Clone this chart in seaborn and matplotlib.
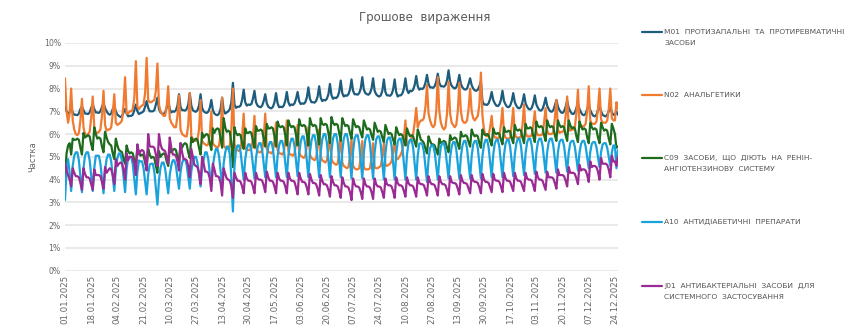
import matplotlib
matplotlib.use("Agg")
import matplotlib.pyplot as plt
import pandas as pd
import seaborn as sns
from matplotlib.lines import Line2D

# ---------------- data (daily shares, %, weeks start on Wednesday 01.01.2025) ----------------
start_date = "2025-01-01"

m01_weeks = [
    [7.20, 7.00, 6.90, 6.95, 7.20, 6.95, 6.85],
    [6.85, 6.83, 6.90, 7.10, 7.20, 7.05, 6.90],
    [6.90, 6.88, 6.95, 7.15, 7.30, 7.10, 6.95],
    [6.95, 6.93, 7.00, 7.20, 7.35, 7.15, 7.00],
    [6.90, 6.85, 6.90, 7.10, 7.25, 7.00, 6.85],
    [6.80, 6.75, 6.78, 6.95, 7.10, 6.90, 6.78],
    [6.80, 6.80, 6.85, 7.05, 7.30, 7.00, 6.88],
    [6.92, 6.95, 7.00, 7.20, 7.45, 7.15, 7.00],
    [7.00, 7.00, 7.05, 7.30, 7.60, 7.10, 6.95],
    [6.90, 6.88, 6.95, 7.15, 7.50, 7.10, 6.95],
    [7.00, 6.98, 7.05, 7.25, 7.75, 7.20, 7.05],
    [7.05, 7.03, 7.10, 7.30, 7.80, 7.25, 7.05],
    [7.00, 6.98, 7.05, 7.25, 7.75, 7.15, 7.00],
    [6.95, 6.93, 6.98, 7.15, 7.50, 7.05, 6.90],
    [6.85, 6.83, 6.90, 7.10, 7.60, 7.05, 6.90],
    [6.95, 7.00, 7.10, 7.40, 8.25, 7.30, 7.15],
    [7.20, 7.20, 7.25, 7.50, 7.95, 7.40, 7.25],
    [7.30, 7.28, 7.32, 7.55, 7.90, 7.40, 7.25],
    [7.20, 7.18, 7.25, 7.45, 7.75, 7.35, 7.20],
    [7.15, 7.13, 7.20, 7.40, 7.80, 7.35, 7.18],
    [7.20, 7.18, 7.25, 7.45, 7.85, 7.40, 7.25],
    [7.30, 7.28, 7.35, 7.55, 7.85, 7.45, 7.32],
    [7.35, 7.33, 7.40, 7.60, 8.05, 7.55, 7.40],
    [7.40, 7.38, 7.45, 7.65, 8.10, 7.60, 7.45],
    [7.50, 7.48, 7.55, 7.75, 8.20, 7.70, 7.55],
    [7.60, 7.58, 7.65, 7.85, 8.35, 7.80, 7.65],
    [7.70, 7.68, 7.75, 7.95, 8.40, 7.90, 7.75],
    [7.75, 7.73, 7.80, 8.00, 8.50, 7.95, 7.80],
    [7.75, 7.73, 7.80, 8.00, 8.45, 7.90, 7.75],
    [7.68, 7.65, 7.70, 7.90, 8.40, 7.85, 7.70],
    [7.70, 7.68, 7.75, 7.95, 8.40, 7.85, 7.65],
    [7.70, 7.70, 7.78, 8.00, 8.45, 7.95, 7.80],
    [7.90, 7.88, 7.95, 8.15, 8.55, 8.10, 7.95],
    [8.00, 7.98, 8.05, 8.25, 8.60, 8.20, 8.05],
    [8.05, 8.03, 8.10, 8.30, 8.65, 8.25, 8.10],
    [8.10, 8.08, 8.15, 8.35, 8.80, 8.30, 8.12],
    [8.05, 8.00, 8.05, 8.25, 8.60, 8.20, 8.05],
    [7.98, 7.95, 8.00, 8.20, 8.45, 8.15, 8.00],
    [7.92, 7.90, 7.95, 8.10, 8.30, 7.45, 7.30],
    [7.30, 7.28, 7.35, 7.55, 7.85, 7.50, 7.35],
    [7.25, 7.23, 7.30, 7.50, 7.90, 7.45, 7.30],
    [7.20, 7.18, 7.25, 7.45, 7.80, 7.40, 7.25],
    [7.15, 7.13, 7.20, 7.40, 7.75, 7.35, 7.20],
    [7.10, 7.08, 7.15, 7.35, 7.70, 7.30, 7.15],
    [7.05, 7.03, 7.10, 7.30, 7.60, 7.25, 7.10],
    [7.00, 6.98, 7.05, 7.25, 7.50, 7.20, 7.05],
    [6.95, 6.93, 7.00, 7.20, 7.45, 7.15, 7.00],
    [6.90, 6.88, 6.95, 7.15, 7.35, 7.10, 6.95],
    [6.85, 6.83, 6.90, 7.10, 7.30, 7.05, 6.90],
    [6.80, 6.78, 6.85, 7.05, 7.25, 7.00, 6.85],
    [6.80, 6.78, 6.85, 7.00, 7.20, 6.95, 6.85],
    [6.85, 7.00, 6.85],
]

n02_weeks = [
    [8.45, 7.00, 6.50, 6.90, 8.00, 6.60, 6.20],
    [6.00, 5.95, 6.05, 6.60, 7.55, 6.30, 6.00],
    [5.95, 6.00, 6.10, 6.70, 7.65, 6.30, 6.05],
    [6.05, 6.10, 6.20, 6.80, 7.90, 6.40, 6.15],
    [6.20, 6.20, 6.30, 6.90, 7.75, 6.50, 6.40],
    [6.45, 6.50, 6.60, 7.30, 8.50, 6.90, 6.90],
    [7.00, 7.00, 7.10, 7.60, 9.20, 7.20, 7.10],
    [7.20, 7.25, 7.30, 7.80, 9.35, 7.50, 7.40],
    [7.40, 7.45, 7.50, 7.90, 9.10, 7.30, 7.00],
    [6.90, 6.80, 6.80, 7.20, 8.10, 6.70, 6.50],
    [6.40, 6.30, 6.30, 6.80, 7.70, 6.20, 6.00],
    [5.95, 5.90, 5.90, 6.40, 7.80, 5.90, 5.80],
    [5.70, 5.70, 5.75, 6.20, 7.50, 5.70, 5.60],
    [5.55, 5.50, 5.55, 6.00, 7.00, 5.60, 5.50],
    [5.45, 5.40, 5.50, 6.00, 7.60, 5.50, 5.40],
    [5.35, 5.35, 5.50, 6.20, 8.00, 5.60, 5.30],
    [5.30, 5.25, 5.35, 5.90, 6.90, 5.40, 5.30],
    [5.30, 5.30, 5.35, 5.80, 6.80, 5.40, 5.25],
    [5.20, 5.20, 5.30, 5.80, 6.90, 5.35, 5.20],
    [5.20, 5.15, 5.25, 5.70, 6.50, 5.30, 5.15],
    [5.15, 5.10, 5.20, 5.70, 6.60, 5.25, 5.10],
    [5.10, 5.05, 5.15, 5.60, 6.40, 5.20, 5.05],
    [5.00, 4.95, 5.05, 5.50, 6.30, 5.10, 4.95],
    [4.90, 4.85, 4.95, 5.40, 6.20, 5.00, 4.85],
    [4.80, 4.75, 4.85, 5.30, 6.00, 4.90, 4.75],
    [4.70, 4.65, 4.70, 5.20, 5.90, 4.75, 4.60],
    [4.55, 4.50, 4.55, 5.00, 5.80, 4.60, 4.50],
    [4.45, 4.45, 4.50, 5.00, 5.70, 4.55, 4.45],
    [4.45, 4.45, 4.50, 4.95, 5.60, 4.55, 4.50],
    [4.50, 4.55, 4.60, 5.00, 5.60, 4.65, 4.60],
    [4.65, 4.70, 4.80, 5.20, 5.80, 4.90, 4.90],
    [5.00, 5.10, 5.30, 5.80, 6.60, 5.50, 5.60],
    [5.70, 5.80, 6.00, 6.50, 7.15, 6.30, 6.50],
    [6.60, 6.60, 6.70, 7.20, 8.15, 6.90, 6.60],
    [6.40, 6.30, 6.40, 7.00, 8.50, 7.00, 6.50],
    [6.30, 6.20, 6.30, 6.90, 8.30, 6.90, 6.50],
    [6.40, 6.30, 6.40, 7.00, 8.25, 7.00, 6.60],
    [6.50, 6.50, 6.60, 7.10, 8.00, 7.00, 6.70],
    [6.60, 6.70, 6.80, 7.30, 8.70, 6.80, 6.20],
    [5.95, 5.90, 5.95, 6.30, 6.80, 6.00, 5.85],
    [5.85, 5.80, 5.90, 6.40, 7.15, 6.00, 5.85],
    [5.80, 5.80, 5.85, 6.40, 7.15, 6.00, 5.85],
    [5.85, 5.85, 5.90, 6.40, 7.30, 6.05, 5.90],
    [5.90, 5.90, 5.95, 6.40, 7.00, 6.10, 5.95],
    [5.95, 5.95, 6.00, 6.50, 7.15, 6.15, 6.00],
    [6.00, 6.00, 6.10, 6.70, 7.50, 6.20, 6.05],
    [6.10, 6.10, 6.20, 6.80, 7.65, 6.30, 6.15],
    [6.20, 6.20, 6.30, 6.90, 7.95, 6.45, 6.30],
    [6.35, 6.35, 6.45, 7.00, 8.10, 6.60, 6.45],
    [6.45, 6.45, 6.55, 7.10, 8.00, 6.65, 6.50],
    [6.50, 6.50, 6.60, 7.10, 8.00, 6.70, 6.60],
    [6.60, 7.40, 7.10],
]

c09_weeks = [
    [4.10, 5.15, 5.50, 5.60, 5.10, 5.80, 5.75],
    [5.75, 5.80, 5.75, 5.40, 5.10, 6.05, 5.85],
    [5.90, 5.95, 5.90, 5.55, 5.30, 6.30, 6.00],
    [5.80, 5.85, 5.80, 5.45, 5.20, 6.10, 5.85],
    [5.65, 5.55, 5.50, 5.15, 4.90, 5.80, 5.50],
    [5.30, 5.25, 5.20, 4.90, 4.70, 5.50, 5.25],
    [5.15, 5.20, 5.15, 4.85, 4.60, 5.45, 5.20],
    [5.05, 5.10, 5.05, 4.75, 4.50, 5.35, 5.10],
    [4.95, 5.00, 4.95, 4.60, 4.30, 5.25, 5.00],
    [5.10, 5.15, 5.10, 4.80, 4.60, 5.40, 5.20],
    [5.30, 5.35, 5.30, 5.00, 4.80, 5.60, 5.40],
    [5.55, 5.60, 5.55, 5.20, 4.95, 5.85, 5.65],
    [5.75, 5.80, 5.75, 5.40, 5.10, 6.05, 5.85],
    [5.95, 6.00, 5.95, 5.60, 5.30, 6.25, 6.05],
    [6.20, 6.25, 6.20, 5.80, 5.40, 6.70, 6.30],
    [6.10, 6.15, 6.10, 5.60, 4.55, 6.30, 6.05],
    [5.95, 6.00, 5.95, 5.60, 5.35, 6.25, 6.05],
    [6.05, 6.10, 6.05, 5.70, 5.40, 6.35, 6.15],
    [6.15, 6.20, 6.15, 5.80, 5.45, 6.45, 6.25],
    [6.25, 6.30, 6.25, 5.90, 5.45, 6.55, 6.35],
    [6.30, 6.35, 6.30, 5.95, 5.50, 6.60, 6.40],
    [6.30, 6.35, 6.30, 5.95, 5.50, 6.65, 6.40],
    [6.35, 6.40, 6.35, 6.00, 5.50, 6.70, 6.45],
    [6.35, 6.40, 6.35, 6.00, 5.55, 6.70, 6.45],
    [6.40, 6.45, 6.40, 6.05, 5.60, 6.75, 6.50],
    [6.40, 6.45, 6.40, 6.05, 5.70, 6.70, 6.50],
    [6.35, 6.40, 6.35, 6.05, 5.80, 6.65, 6.45],
    [6.30, 6.35, 6.30, 6.05, 5.85, 6.60, 6.40],
    [6.20, 6.25, 6.20, 5.95, 5.75, 6.50, 6.30],
    [6.10, 6.15, 6.10, 5.85, 5.65, 6.40, 6.20],
    [6.00, 6.05, 6.00, 5.75, 5.55, 6.30, 6.10],
    [5.95, 6.00, 5.95, 5.70, 5.50, 6.25, 6.05],
    [5.90, 5.95, 5.90, 5.65, 5.45, 6.20, 6.00],
    [5.75, 5.70, 5.60, 5.35, 5.15, 5.90, 5.70],
    [5.55, 5.55, 5.50, 5.30, 5.10, 5.80, 5.60],
    [5.65, 5.70, 5.65, 5.40, 5.20, 5.95, 5.75],
    [5.80, 5.85, 5.80, 5.55, 5.35, 6.10, 5.90],
    [5.90, 5.95, 5.90, 5.65, 5.45, 6.20, 6.00],
    [5.90, 5.95, 5.90, 5.60, 5.40, 6.20, 6.00],
    [5.95, 6.00, 5.95, 5.70, 5.50, 6.25, 6.05],
    [6.00, 6.05, 6.00, 5.75, 5.55, 6.30, 6.10],
    [6.10, 6.15, 6.10, 5.80, 5.60, 6.40, 6.20],
    [6.15, 6.20, 6.15, 5.85, 5.60, 6.45, 6.25],
    [6.25, 6.30, 6.25, 5.90, 5.65, 6.55, 6.35],
    [6.30, 6.35, 6.30, 5.95, 5.70, 6.60, 6.40],
    [6.30, 6.35, 6.30, 5.95, 5.70, 6.60, 6.40],
    [6.30, 6.35, 6.30, 5.95, 5.70, 6.60, 6.40],
    [6.25, 6.30, 6.25, 5.90, 5.65, 6.55, 6.35],
    [6.20, 6.25, 6.20, 5.85, 5.60, 6.50, 6.30],
    [6.20, 6.25, 6.20, 5.85, 5.60, 6.50, 6.30],
    [6.15, 6.20, 6.15, 5.80, 5.55, 6.45, 6.25],
    [6.00, 5.40, 5.45],
]

a10_weeks = [
    [3.10, 4.40, 4.90, 4.30, 3.50, 4.60, 5.05],
    [5.20, 5.20, 4.85, 4.15, 3.45, 4.50, 5.05],
    [5.20, 5.20, 4.85, 4.20, 3.50, 4.50, 5.05],
    [5.05, 5.05, 4.70, 4.05, 3.40, 4.40, 4.90],
    [5.10, 5.10, 4.80, 4.15, 3.50, 4.45, 4.95],
    [5.15, 5.15, 4.81, 4.13, 3.45, 4.47, 4.98],
    [5.00, 5.00, 4.67, 4.01, 3.35, 4.34, 4.84],
    [4.80, 4.80, 4.51, 3.93, 3.35, 4.22, 4.66],
    [4.70, 4.70, 4.34, 3.62, 2.90, 3.98, 4.52],
    [4.75, 4.75, 4.48, 3.94, 3.40, 4.21, 4.62],
    [4.85, 4.85, 4.60, 4.10, 3.60, 4.35, 4.73],
    [4.90, 4.90, 4.64, 4.12, 3.60, 4.38, 4.77],
    [5.00, 5.00, 4.74, 4.22, 3.70, 4.48, 4.87],
    [5.20, 5.20, 4.90, 4.30, 3.70, 4.60, 5.05],
    [5.35, 5.35, 5.03, 4.39, 3.75, 4.71, 5.19],
    [5.45, 5.45, 5.10, 4.10, 2.60, 4.60, 5.30],
    [5.50, 5.50, 5.20, 4.60, 4.00, 4.90, 5.35],
    [5.55, 5.55, 5.25, 4.65, 4.05, 4.95, 5.40],
    [5.60, 5.60, 5.30, 4.70, 4.10, 5.00, 5.45],
    [5.65, 5.65, 5.34, 4.72, 4.10, 5.03, 5.50],
    [5.70, 5.70, 5.38, 4.74, 4.10, 5.06, 5.54],
    [5.80, 5.80, 5.47, 4.81, 4.15, 5.14, 5.64],
    [5.90, 5.90, 5.54, 4.82, 4.10, 5.18, 5.72],
    [5.95, 5.95, 5.58, 4.84, 4.10, 5.21, 5.77],
    [6.00, 6.00, 5.62, 4.86, 4.10, 5.24, 5.81],
    [6.00, 6.00, 5.62, 4.86, 4.10, 5.24, 5.81],
    [6.00, 6.00, 5.61, 4.83, 4.05, 5.22, 5.81],
    [5.95, 5.95, 5.57, 4.81, 4.05, 5.19, 5.76],
    [5.95, 5.95, 5.57, 4.81, 4.05, 5.19, 5.76],
    [5.90, 5.90, 5.52, 4.76, 4.00, 5.14, 5.71],
    [5.85, 5.85, 5.48, 4.74, 4.00, 5.11, 5.67],
    [5.80, 5.80, 5.44, 4.72, 4.00, 5.08, 5.62],
    [5.75, 5.75, 5.40, 4.70, 4.00, 5.05, 5.58],
    [5.60, 5.55, 5.22, 4.56, 3.90, 4.89, 5.39],
    [5.50, 5.50, 5.20, 4.60, 4.00, 4.90, 5.45],
    [5.60, 5.60, 5.29, 4.67, 4.05, 4.98, 5.45],
    [5.65, 5.65, 5.33, 4.69, 4.05, 5.01, 5.49],
    [5.70, 5.70, 5.37, 4.71, 4.05, 5.04, 5.54],
    [5.70, 5.70, 5.37, 4.71, 4.05, 5.04, 5.54],
    [5.75, 5.75, 5.42, 4.76, 4.10, 5.09, 5.59],
    [5.75, 5.75, 5.42, 4.76, 4.10, 5.09, 5.59],
    [5.75, 5.75, 5.43, 4.79, 4.15, 5.11, 5.59],
    [5.80, 5.80, 5.48, 4.84, 4.20, 5.16, 5.64],
    [5.80, 5.80, 5.49, 4.87, 4.25, 5.18, 5.65],
    [5.80, 5.80, 5.50, 4.90, 4.30, 5.20, 5.65],
    [5.80, 5.80, 5.50, 4.90, 4.30, 5.20, 5.65],
    [5.75, 5.75, 5.47, 4.91, 4.35, 5.19, 5.61],
    [5.70, 5.70, 5.44, 4.92, 4.40, 5.18, 5.57],
    [5.70, 5.70, 5.46, 4.98, 4.50, 5.22, 5.58],
    [5.65, 5.65, 5.43, 4.99, 4.55, 5.21, 5.54],
    [5.60, 5.60, 5.40, 5.00, 4.60, 5.20, 5.50],
    [5.50, 4.50, 5.30],
]

j01_weeks = [
    [4.70, 4.40, 4.20, 4.00, 3.70, 4.50, 4.30],
    [4.15, 4.15, 4.10, 3.85, 3.55, 4.50, 4.25],
    [4.10, 4.10, 4.05, 3.80, 3.55, 4.45, 4.20],
    [4.20, 4.20, 4.15, 3.90, 3.60, 4.55, 4.30],
    [4.40, 4.50, 4.45, 4.20, 3.80, 4.90, 4.60],
    [4.70, 4.75, 4.70, 4.45, 4.00, 5.15, 4.85],
    [5.00, 5.00, 4.95, 4.70, 4.20, 5.55, 5.10],
    [5.25, 5.30, 5.25, 4.95, 4.40, 6.00, 5.45],
    [5.45, 5.45, 5.40, 5.10, 4.60, 6.00, 5.55],
    [5.35, 5.30, 5.25, 5.00, 4.70, 5.85, 5.40],
    [5.10, 5.10, 5.05, 4.80, 4.40, 5.60, 5.20],
    [4.90, 4.90, 4.85, 4.60, 4.10, 5.35, 5.00],
    [4.65, 4.60, 4.55, 4.30, 3.80, 5.00, 4.70],
    [4.35, 4.35, 4.30, 4.05, 3.50, 4.70, 4.45],
    [4.15, 4.15, 4.10, 3.85, 3.30, 4.50, 4.25],
    [4.05, 4.00, 3.95, 3.70, 3.20, 4.30, 4.10],
    [3.95, 3.95, 3.90, 3.70, 3.40, 4.30, 4.05],
    [3.95, 3.95, 3.90, 3.70, 3.40, 4.30, 4.05],
    [4.00, 4.00, 3.95, 3.75, 3.45, 4.35, 4.10],
    [3.95, 3.95, 3.90, 3.70, 3.40, 4.30, 4.05],
    [3.95, 3.95, 3.90, 3.70, 3.40, 4.30, 4.05],
    [3.95, 3.95, 3.90, 3.65, 3.35, 4.30, 4.05],
    [3.90, 3.90, 3.85, 3.65, 3.35, 4.25, 4.00],
    [3.85, 3.85, 3.80, 3.60, 3.30, 4.20, 3.95],
    [3.80, 3.80, 3.75, 3.55, 3.25, 4.15, 3.90],
    [3.75, 3.75, 3.70, 3.50, 3.20, 4.10, 3.85],
    [3.70, 3.70, 3.65, 3.45, 3.10, 4.05, 3.80],
    [3.70, 3.70, 3.65, 3.45, 3.15, 4.05, 3.80],
    [3.70, 3.70, 3.65, 3.45, 3.15, 4.05, 3.80],
    [3.70, 3.70, 3.65, 3.45, 3.20, 4.05, 3.80],
    [3.75, 3.75, 3.70, 3.50, 3.20, 4.10, 3.85],
    [3.75, 3.75, 3.70, 3.50, 3.25, 4.10, 3.85],
    [3.75, 3.75, 3.70, 3.50, 3.25, 4.10, 3.85],
    [3.80, 3.80, 3.75, 3.55, 3.30, 4.15, 3.90],
    [3.80, 3.80, 3.75, 3.55, 3.30, 4.15, 3.90],
    [3.80, 3.80, 3.75, 3.55, 3.30, 4.15, 3.90],
    [3.85, 3.85, 3.80, 3.60, 3.35, 4.20, 3.95],
    [3.85, 3.85, 3.80, 3.60, 3.40, 4.20, 3.95],
    [3.90, 3.90, 3.85, 3.65, 3.40, 4.25, 4.00],
    [3.90, 3.90, 3.85, 3.65, 3.45, 4.25, 4.00],
    [3.95, 3.95, 3.90, 3.70, 3.45, 4.30, 4.05],
    [3.95, 3.95, 3.90, 3.70, 3.50, 4.30, 4.05],
    [3.95, 3.95, 3.90, 3.70, 3.50, 4.30, 4.05],
    [4.00, 4.00, 3.95, 3.75, 3.50, 4.35, 4.10],
    [4.00, 4.00, 3.95, 3.75, 3.55, 4.35, 4.10],
    [4.10, 4.10, 4.05, 3.85, 3.60, 4.45, 4.20],
    [4.20, 4.20, 4.15, 3.95, 3.70, 4.55, 4.30],
    [4.30, 4.30, 4.25, 4.05, 3.80, 4.65, 4.40],
    [4.45, 4.45, 4.40, 4.20, 3.90, 4.80, 4.55],
    [4.60, 4.60, 4.55, 4.35, 4.00, 4.95, 4.70],
    [4.70, 4.70, 4.65, 4.45, 4.10, 5.05, 4.80],
    [4.80, 4.60, 5.00],
]

series_labels = [
    "M01  ПРОТИЗАПАЛЬНІ  ТА  ПРОТИРЕВМАТИЧНІ\nЗАСОБИ",
    "N02  АНАЛЬГЕТИКИ",
    "C09  ЗАСОБИ,  ЩО  ДІЮТЬ  НА  РЕНІН-\nАНГІОТЕНЗИНОВУ  СИСТЕМУ",
    "A10  АНТИДІАБЕТИЧНІ  ПРЕПАРАТИ",
    "J01  АНТИБАКТЕРІАЛЬНІ  ЗАСОБИ  ДЛЯ\nСИСТЕМНОГО  ЗАСТОСУВАННЯ",
]
series_weeks = [m01_weeks, n02_weeks, c09_weeks, a10_weeks, j01_weeks]
series_colors = ["#1d5c7d", "#f07a30", "#1e6b1e", "#1aa2dc", "#9b2b94"]

tick_labels = ["01.01.2025", "18.01.2025", "04.02.2025", "21.02.2025", "10.03.2025",
               "27.03.2025", "13.04.2025", "30.04.2025", "17.05.2025", "03.06.2025",
               "20.06.2025", "07.07.2025", "24.07.2025", "10.08.2025", "27.08.2025",
               "13.09.2025", "30.09.2025", "17.10.2025", "03.11.2025", "20.11.2025",
               "07.12.2025", "24.12.2025"]
y_ticks = [0, 1, 2, 3, 4, 5, 6, 7, 8, 9, 10]

title_text = "Грошове  вираження"
y_label = "Частка"

# ---------------- build long-form table ----------------
frames = []
for label, weeks in zip(series_labels, series_weeks):
    vals = [v for w in weeks for v in w]
    dates = pd.date_range(start_date, periods=len(vals), freq="D")
    frames.append(pd.DataFrame({"date": dates, "share": vals, "series": label}))
df = pd.concat(frames, ignore_index=True)
palette = dict(zip(series_labels, series_colors))

# ---------------- figure ----------------
sns.set_style("white")
plt.rcParams["font.family"] = ["DejaVu Sans"]
W, H = 850, 332
fig = plt.figure(figsize=(W / 100, H / 100), dpi=100)
ax = fig.add_axes([65 / W, 1 - 270.7 / H, (618 - 65) / W, (270.7 - 43) / H])

sns.lineplot(data=df, x="date", y="share", hue="series", palette=palette,
             hue_order=series_labels, linewidth=1.6, legend=False, ax=ax, sort=False)

ax.set_ylim(0, 10)
ax.set_xlim(df["date"].min(), df["date"].max())
ax.set_yticks(y_ticks)
ax.set_yticklabels([f"{t}%" for t in y_ticks], fontsize=5.6, color="#666666")
tick_pos = pd.to_datetime(tick_labels, format="%d.%m.%Y")
ax.set_xticks(tick_pos)
ax.set_xticklabels(tick_labels, rotation=90, fontsize=6.2, color="#666666")
ax.tick_params(axis="both", length=0, pad=3)
ax.yaxis.grid(True, color="#e3e3e3", linewidth=1.1)
ax.set_axisbelow(True)
for s in ax.spines.values():
    s.set_visible(False)
ax.set_xlabel("")
ax.set_ylabel("")

fig.text(425 / W, 1 - 17 / H, title_text, ha="center", va="center",
         fontsize=8.5, color="#5a5a5a")
fig.text(33 / W, 1 - 157 / H, y_label, ha="center", va="center", rotation=90,
         fontsize=6, color="#666666")

# ---------------- manual legend ----------------
legend_rows_y = [31.7, 95, 157.7, 221.7, 285.7]
line_gap = 11
for label, color, yy in zip(series_labels, series_colors, legend_rows_y):
    fig.add_artist(Line2D([642 / W, 662 / W], [1 - yy / H, 1 - yy / H],
                          color=color, linewidth=1.6, transform=fig.transFigure))
    for i, part in enumerate(label.split("\n")):
        fig.text(664 / W, 1 - (yy + i * line_gap) / H, part, ha="left", va="center",
                 fontsize=5.4, color="#555555")

fig.savefig("out.png", dpi=100)
